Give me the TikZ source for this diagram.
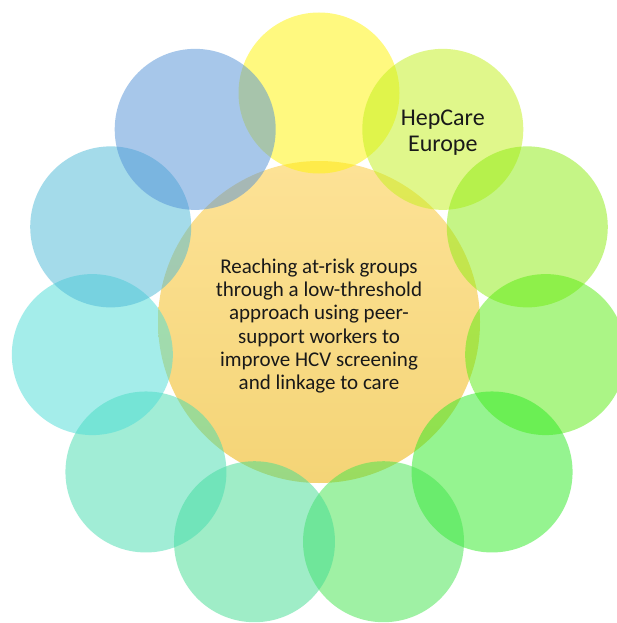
\documentclass[tikz,border=0pt]{standalone}
\usepackage{fontspec}
\setmainfont{Carlito}
\definecolor{hubtop}{RGB}{253,226,150}
\definecolor{hubbot}{RGB}{244,212,118}
\definecolor{textc}{RGB}{25,25,25}
\definecolor{k0}{RGB}{255,245,0}
\definecolor{k1}{RGB}{195,241,25}
\definecolor{k2}{RGB}{141,237,15}
\definecolor{k3}{RGB}{89,237,15}
\definecolor{k4}{RGB}{45,235,35}
\definecolor{k5}{RGB}{65,229,75}
\definecolor{k6}{RGB}{65,221,145}
\definecolor{k7}{RGB}{69,221,175}
\definecolor{k8}{RGB}{75,221,215}
\definecolor{k9}{RGB}{75,185,215}
\definecolor{k10}{RGB}{81,145,215}
\begin{document}
\begin{tikzpicture}[x=1pt,y=1pt,
  petal/.style={circle, minimum size=161pt, inner sep=0pt, outer sep=0pt, fill opacity=0.5, text opacity=1, draw=none},
  hub/.style={circle, minimum size=322pt, inner sep=0pt, outer sep=0pt, top color=hubtop, bottom color=hubbot, draw=none},
  hubtext/.style={align=center, inner sep=0pt, text=textc, font=\fontsize{21}{23.3}\selectfont},
  petaltext/.style={align=center, inner sep=0pt, text=textc, font=\fontsize{24}{26}\selectfont}]
\fill[white] (0,0) rectangle (617,-623);
\useasboundingbox (0,0) rectangle (617,-623);
\node[hub] (hub) at (319,-322) {};
\node[hubtext] (ht) at (319,-326) {Reaching at-risk groups\\through a low-threshold\\approach using peer-\\support workers to\\improve HCV screening\\and linkage to care};
\begin{scope}[shift={(319,-322)}]
\foreach \i in {0,...,10} {
  \node[petal, fill=k\i] (p\i) at ({90-\i*360/11}:229pt) {};
}
\end{scope}
\node[petaltext] (hep) at ([yshift=-3pt]p1.center) {HepCare\\Europe};
\end{tikzpicture}
\end{document}
